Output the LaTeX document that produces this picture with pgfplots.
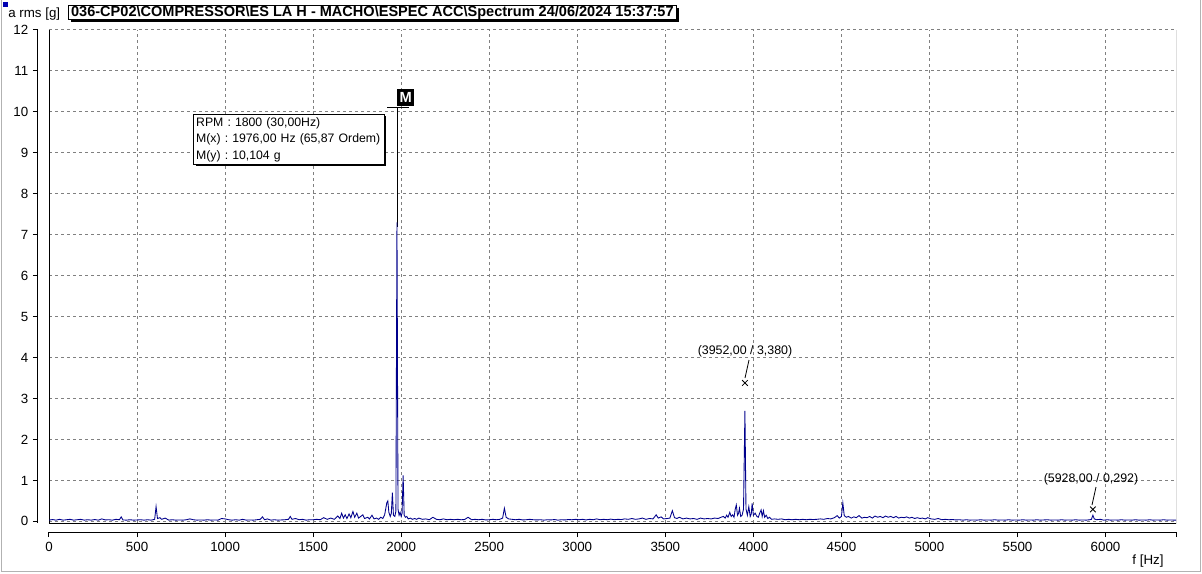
\documentclass[border=0pt]{standalone}
\usepackage{fontspec}
\setmainfont{Liberation Sans}
\usepackage{pgfplots}
\usepackage{pgfplotstable}
\pgfplotsset{compat=1.18}
\usetikzlibrary{shadows}

\definecolor{trace}{RGB}{0,0,140}
\definecolor{gridgray}{RGB}{128,128,128}

% spectrum: f [Hz], a rms [g]
\pgfplotstableread{
f a
0 0.03
20 0.045
40 0.03
60 0.05
80 0.03
100 0.04
120 0.05
140 0.03
160 0.04
180 0.05
200 0.03
220 0.04
240 0.03
260 0.045
280 0.03
300 0.06
320 0.035
340 0.04
360 0.03
380 0.05
400 0.04
410 0.11
420 0.035
440 0.03
460 0.04
480 0.03
500 0.035
520 0.04
540 0.03
560 0.04
580 0.03
600 0.05
608 0.36
616 0.07
630 0.09
640 0.05
660 0.08
680 0.03
700 0.04
720 0.03
740 0.035
760 0.03
780 0.04
800 0.06
820 0.04
840 0.03
860 0.035
880 0.03
900 0.04
920 0.03
940 0.035
960 0.03
980 0.07
1000 0.06
1020 0.04
1040 0.03
1060 0.04
1080 0.03
1100 0.05
1120 0.03
1140 0.035
1160 0.03
1180 0.04
1200 0.05
1212 0.11
1224 0.04
1240 0.06
1260 0.03
1280 0.04
1300 0.03
1320 0.035
1340 0.04
1360 0.05
1370 0.12
1380 0.05
1400 0.07
1420 0.04
1440 0.05
1460 0.03
1480 0.04
1500 0.04
1520 0.05
1540 0.04
1560 0.09
1580 0.05
1600 0.08
1620 0.05
1640 0.13
1652 0.07
1662 0.2
1672 0.08
1682 0.16
1692 0.07
1704 0.18
1714 0.09
1726 0.24
1736 0.1
1748 0.2
1758 0.08
1770 0.12
1782 0.16
1792 0.07
1810 0.1
1820 0.06
1834 0.15
1846 0.06
1860 0.08
1872 0.05
1884 0.1
1896 0.07
1906 0.16
1912 0.3
1918 0.45
1924 0.5
1930 0.22
1938 0.12
1944 0.2
1950 0.7
1956 0.15
1964 0.12
1970 0.25
1976 7.3
1982 0.3
1988 0.15
1994 0.22
2000 0.12
2005 0.2
2011 1.12
2017 0.15
2024 0.1
2032 0.12
2040 0.06
2052 0.08
2064 0.05
2076 0.07
2088 0.05
2100 0.08
2120 0.05
2140 0.06
2160 0.04
2180 0.1
2200 0.05
2220 0.04
2240 0.06
2260 0.04
2280 0.05
2300 0.04
2320 0.05
2340 0.04
2360 0.045
2380 0.1
2400 0.04
2420 0.05
2440 0.04
2460 0.05
2480 0.035
2500 0.04
2520 0.05
2540 0.04
2560 0.05
2576 0.08
2586 0.32
2596 0.1
2610 0.06
2630 0.05
2650 0.04
2670 0.05
2690 0.035
2710 0.04
2730 0.05
2750 0.04
2770 0.035
2790 0.04
2810 0.03
2830 0.04
2850 0.035
2870 0.045
2890 0.03
2910 0.04
2930 0.035
2950 0.045
2970 0.04
2990 0.05
3010 0.04
3030 0.05
3050 0.035
3070 0.05
3090 0.04
3110 0.06
3130 0.04
3150 0.05
3170 0.04
3190 0.055
3210 0.04
3230 0.05
3250 0.045
3270 0.06
3290 0.05
3310 0.07
3330 0.05
3350 0.06
3370 0.08
3390 0.05
3410 0.07
3430 0.06
3448 0.16
3460 0.08
3476 0.11
3490 0.06
3510 0.07
3526 0.08
3540 0.26
3552 0.09
3566 0.07
3580 0.1
3600 0.06
3620 0.08
3640 0.06
3660 0.07
3680 0.05
3700 0.08
3720 0.06
3740 0.07
3760 0.06
3780 0.08
3800 0.07
3816 0.1
3830 0.12
3840 0.08
3848 0.15
3856 0.1
3866 0.22
3874 0.12
3882 0.16
3890 0.1
3897 0.3
3903 0.4
3910 0.15
3916 0.2
3921 0.32
3928 0.12
3936 0.15
3944 0.3
3952 2.7
3958 0.3
3966 0.15
3974 0.36
3982 0.12
3988 0.18
3993 0.44
4000 0.15
4010 0.2
4020 0.12
4028 0.1
4036 0.2
4044 0.28
4050 0.12
4057 0.26
4064 0.1
4073 0.15
4082 0.07
4092 0.1
4104 0.05
4120 0.06
4140 0.05
4160 0.06
4180 0.04
4200 0.05
4220 0.04
4240 0.05
4260 0.04
4280 0.05
4300 0.04
4320 0.05
4340 0.045
4360 0.05
4380 0.06
4400 0.05
4420 0.07
4440 0.06
4460 0.09
4476 0.14
4488 0.08
4500 0.12
4508 0.45
4516 0.14
4528 0.1
4540 0.12
4556 0.08
4570 0.11
4584 0.09
4600 0.14
4616 0.08
4630 0.1
4646 0.09
4660 0.12
4676 0.08
4690 0.13
4706 0.1
4720 0.12
4736 0.09
4750 0.13
4766 0.1
4780 0.12
4796 0.09
4810 0.12
4826 0.08
4840 0.1
4856 0.09
4870 0.11
4886 0.08
4900 0.1
4916 0.07
4930 0.09
4946 0.07
4960 0.08
4976 0.06
4990 0.09
5010 0.06
5030 0.05
5050 0.07
5070 0.04
5090 0.05
5110 0.04
5130 0.045
5150 0.035
5170 0.04
5190 0.03
5210 0.04
5230 0.03
5250 0.035
5270 0.03
5290 0.04
5310 0.03
5330 0.035
5350 0.03
5370 0.04
5390 0.03
5410 0.035
5430 0.03
5450 0.04
5470 0.03
5490 0.035
5510 0.03
5530 0.04
5550 0.03
5570 0.035
5590 0.03
5610 0.04
5630 0.03
5650 0.035
5670 0.04
5690 0.03
5710 0.035
5730 0.03
5750 0.04
5770 0.03
5790 0.035
5810 0.03
5830 0.04
5850 0.03
5870 0.035
5890 0.03
5910 0.04
5920 0.05
5928 0.15
5936 0.06
5950 0.04
5970 0.05
5990 0.03
6010 0.04
6030 0.03
6050 0.035
6070 0.03
6090 0.04
6110 0.03
6130 0.035
6150 0.03
6170 0.04
6190 0.03
6210 0.035
6230 0.03
6250 0.04
6270 0.03
6290 0.035
6310 0.03
6330 0.04
6350 0.03
6370 0.035
6390 0.03
6400 0.03
}\spectrum

\pgfplotsset{
  frame/.style={
    at={(36.75pt,-392.25pt)}, anchor=south west,
    scale only axis, width=845.25pt, height=369.75pt,
    xmin=0, xmax=6400, ymin=-0.04, ymax=12,
  },
}

\begin{document}
\frenchspacing
% outer drawing in screen pixels, origin top left
\begin{tikzpicture}[x=0.75pt, y=-0.75pt, font=\fontsize{10}{12}\selectfont]
\path[use as bounding box] (0,0) rectangle (1202,574);
\fill[white] (0,0) rectangle (1202,574);
\draw[gray!60, line width=0.75pt] (1,0) -- (1,571) -- (1200,571) -- (1200,0);
\fill[blue!70!black] (3,2) rectangle (8,7);

% plot area: grid, frame, trace
\begin{axis}[frame,
  axis line style={draw=none},
  xtick={0,500,...,6000}, ytick={0,...,12},
  major tick length=0pt, xticklabels={}, yticklabels={},
  grid=major,
  grid style={gridgray, line width=0.75pt, dash pattern=on 2.25pt off 2.25pt},
]
\draw[black, line width=0.75pt] (rel axis cs:0,1) -- (rel axis cs:0,0)
  -- (rel axis cs:1,0) -- (rel axis cs:1,1);
\draw[black, line width=0.6pt] (axis cs:1976,7.2) -- (axis cs:1976,10.104);
\draw[black, line width=0.6pt] (axis cs:1920,10.104) -- (axis cs:2045,10.104);
\addplot[trace, line width=0.65pt] table[x=f, y=a] {\spectrum};
\addplot[only marks, mark=x, mark size=3pt, black, line width=0.6pt]
  coordinates {(3952,3.38) (5928,0.292)};
\end{axis}

% offset axis lines with ticks
\begin{axis}[frame,
  axis x line=bottom, axis y line=left,
  axis x line shift=6.75pt, axis y line shift=8.25pt,
  axis line style={-, black, line width=0.75pt},
  xtick={0,500,...,6000}, ytick={0,...,12},
  extra x ticks={6400}, extra x tick labels={},
  tick align=outside, major tick length=3.75pt,
  tick style={black, line width=0.75pt},
  ticklabel style={font=\fontsize{10}{12}\selectfont},
  /pgf/number format/assume math mode=true,
  /pgf/number format/set thousands separator={},
]
\end{axis}

% texts and annotations
\node[anchor=west, inner sep=0pt] at (8,14) {a rms [g]};
\node[draw=black, fill=white, line width=0.75pt, anchor=north west,
  inner xsep=2pt, inner ysep=0pt,
  font=\fontsize{10.9}{12}\selectfont\bfseries,
  drop shadow={shadow xshift=2pt, shadow yshift=-2pt, fill=black, opacity=1}]
  at (68,5) {036-CP02\textbackslash COMPRESSOR\textbackslash ES LA H - MACHO\textbackslash ESPEC ACC\textbackslash Spectrum 24/06/2024 15:37:57};
\node[anchor=center] at (1148,561) {f [Hz]};

\node[fill=black, text=white, font=\fontsize{11}{12}\selectfont\bfseries,
  anchor=south west, inner sep=0pt, minimum width=12.75pt, minimum height=12.75pt]
  at (397,106) {M};
\node[draw=black, fill=white, line width=0.75pt, anchor=north west, align=left,
  inner sep=2pt, text width=139pt, font=\fontsize{9.2}{12.4}\selectfont\frenchspacing,
  drop shadow={shadow xshift=1.5pt, shadow yshift=-1.5pt, fill=black, opacity=1}]
  at (193,114) {RPM : 1800 (30,00Hz)\\M(x) : 1976,00 Hz (65,87 Ordem)\\M(y) : 10,104 g};

\draw[black, line width=0.6pt] (745,378) -- (749,360);
\node[font=\fontsize{9.3}{11}\selectfont] at (745,351) {(3952,00 / 3,380)};
\draw[black, line width=0.6pt] (1092,505) -- (1096,487);
\node[font=\fontsize{9.3}{11}\selectfont] at (1091,479) {(5928,00 / 0,292)};
\end{tikzpicture}
\end{document}
